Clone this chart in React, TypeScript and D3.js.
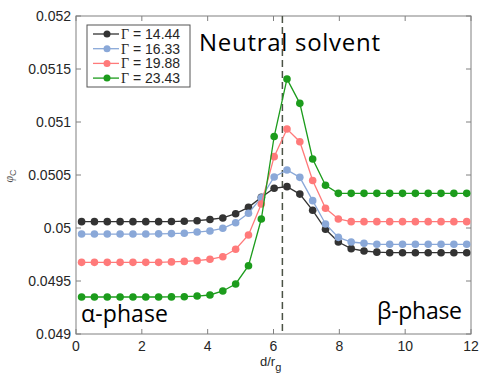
import React from 'react';
import * as d3 from 'd3';

// d/r_g positions of the sample points
const dValues = [0.17, 0.56, 0.95, 1.34, 1.73, 2.12, 2.51, 2.9, 3.29, 3.68, 4.07, 4.46, 4.85, 5.24, 5.63, 6.02, 6.41, 6.8, 7.19, 7.58, 7.97, 8.36, 8.75, 9.14, 9.53, 9.92, 10.31, 10.7, 11.09, 11.48, 11.87];

const gamma1444 = [0.05006, 0.05006, 0.05006, 0.05006, 0.05006, 0.05006, 0.05006, 0.050061, 0.050064, 0.050069, 0.05008, 0.050095, 0.050135, 0.050195, 0.05029, 0.050375, 0.05039, 0.05032, 0.050167, 0.049988, 0.049868, 0.049805, 0.049783, 0.049772, 0.049767, 0.049767, 0.049767, 0.049767, 0.049767, 0.049767, 0.049767];
const gamma1633 = [0.049943, 0.049943, 0.049943, 0.049943, 0.049943, 0.049943, 0.049945, 0.049947, 0.049951, 0.049962, 0.049972, 0.049997, 0.05005, 0.050139, 0.050286, 0.050481, 0.050547, 0.050478, 0.050258, 0.050038, 0.049912, 0.049868, 0.049856, 0.049846, 0.049846, 0.049846, 0.049846, 0.049846, 0.049846, 0.049846, 0.049846];
const gamma1988 = [0.049676, 0.049676, 0.049676, 0.049676, 0.049676, 0.049676, 0.049676, 0.04968, 0.049685, 0.049692, 0.049705, 0.049729, 0.049799, 0.049934, 0.050226, 0.050673, 0.050934, 0.050814, 0.050448, 0.050186, 0.050085, 0.05006, 0.05006, 0.05006, 0.05006, 0.05006, 0.05006, 0.05006, 0.05006, 0.05006, 0.05006];
const gamma2343 = [0.049349, 0.049349, 0.049349, 0.049349, 0.049349, 0.049349, 0.049349, 0.04935, 0.049352, 0.049358, 0.049368, 0.049406, 0.049472, 0.049644, 0.050085, 0.050863, 0.051406, 0.051176, 0.050651, 0.050404, 0.050327, 0.050327, 0.050327, 0.050327, 0.050327, 0.050327, 0.050327, 0.050327, 0.050327, 0.050327, 0.050327];

const seriesLabels = ['14.44', '16.33', '19.88', '23.43'];
const seriesValues = [gamma1444, gamma1633, gamma1988, gamma2343];
const seriesColors = ['#333333', '#8aa8d8', '#ff7a7a', '#1c9c1c'];

const xTicks = [0, 2, 4, 6, 8, 10, 12];
const yTicks = [0.049, 0.0495, 0.05, 0.0505, 0.051, 0.0515, 0.052];
const yTickLabels = ['0.049', '0.0495', '0.05', '0.0505', '0.051', '0.0515', '0.052'];
const interfacePos = 6.27;

const W = 479;
const H = 374;
const margin = { top: 16, right: 8, bottom: 40, left: 76 };

const App = () => {
    const x = d3.scaleLinear().domain([0, 12]).range([margin.left, W - margin.right]);
    const y = d3.scaleLinear().domain([0.049, 0.052]).range([H - margin.bottom, margin.top]);

    const line = d3.line<number>()
        .x((_, i) => x(dValues[i]))
        .y((v) => y(v));

    const axisColor = '#808080';
    const tickFont = '"Liberation Sans", Arial, sans-serif';
    const noteFont = '"Open Sans", sans-serif';

    return (
        <div>
            <style>{'body{margin:0}'}</style>
            <svg width={W} height={H} style={{ display: 'block' }}>
                {/* axis box */}
                <rect x={x(0)} y={y(0.052)} width={x(12) - x(0)} height={y(0.049) - y(0.052)}
                    fill="none" stroke={axisColor} strokeWidth={1} />

                {/* x ticks */}
                {xTicks.map((t) => (
                    <g key={'xt' + t}>
                        <line x1={x(t)} x2={x(t)} y1={y(0.049)} y2={y(0.049) - 5} stroke={axisColor} />
                        <line x1={x(t)} x2={x(t)} y1={y(0.052)} y2={y(0.052) + 5} stroke={axisColor} />
                        <text x={x(t)} y={y(0.049) + 17} textAnchor="middle" fontFamily={tickFont}
                            fontSize={14} fill="#262626">{t}</text>
                    </g>
                ))}

                {/* y ticks */}
                {yTicks.map((t, i) => (
                    <g key={'yt' + t}>
                        <line x1={x(0)} x2={x(0) + 5} y1={y(t)} y2={y(t)} stroke={axisColor} />
                        <line x1={x(12)} x2={x(12) - 5} y1={y(t)} y2={y(t)} stroke={axisColor} />
                        <text x={x(0) - 5} y={y(t) + 5} textAnchor="end" fontFamily={tickFont}
                            fontSize={14} fill="#262626">{yTickLabels[i]}</text>
                    </g>
                ))}

                {/* axis labels */}
                <text x={260} y={366} fontFamily={tickFont} fontSize={13} fill="#262626">
                    d/r<tspan dy={5} fontSize={11}>g</tspan>
                </text>
                <text transform="translate(13,176) rotate(-90)" textAnchor="middle" fontFamily={tickFont}
                    fontSize={12} fill="#555">
                    <tspan fontStyle="italic" fontFamily='"Liberation Serif", serif'>φ</tspan>
                    <tspan dy={3} fontSize={9}>C</tspan>
                </text>

                {/* interface marker */}
                <line x1={x(interfacePos)} x2={x(interfacePos)} y1={y(0.052)} y2={y(0.049)}
                    stroke="#4b5245" strokeWidth={1.5} strokeDasharray="7,4" />

                {/* series */}
                {seriesValues.map((vals, s) => (
                    <g key={'s' + s}>
                        <path d={line(vals) || ''} fill="none" stroke={seriesColors[s]} strokeWidth={1.3} />
                        {vals.map((v, i) => (
                            <circle key={i} cx={x(dValues[i])} cy={y(v)} r={3.8} fill={seriesColors[s]} />
                        ))}
                    </g>
                ))}

                {/* legend */}
                <rect x={87} y={25} width={103} height={62} fill="#fff" stroke="#555" strokeWidth={1} />
                {seriesLabels.map((lab, i) => (
                    <g key={'lg' + i} transform={`translate(0,${34 + i * 14.7})`}>
                        <line x1={93} x2={119} y1={0} y2={0} stroke={seriesColors[i]} strokeWidth={1.3} />
                        <circle cx={107} cy={0} r={3.5} fill={seriesColors[i]} />
                        <text x={121} y={5} fontFamily={tickFont} fontSize={14} fill="#262626">
                            <tspan fontFamily='"Liberation Serif", serif'>Γ</tspan> = {lab}
                        </text>
                    </g>
                ))}

                {/* annotations */}
                <text x={199} y={51} fontFamily={noteFont} fontSize={24} textLength={181}
                    lengthAdjust="spacing" fill="#000">Neutral solvent</text>
                <text x={81} y={322} fontFamily={noteFont} fontSize={23} textLength={87}
                    lengthAdjust="spacing" fill="#000">α-phase</text>
                <text x={377} y={319} fontFamily={noteFont} fontSize={23} textLength={85}
                    lengthAdjust="spacing" fill="#000">β-phase</text>
            </svg>
        </div>
    );
};

export default App;
